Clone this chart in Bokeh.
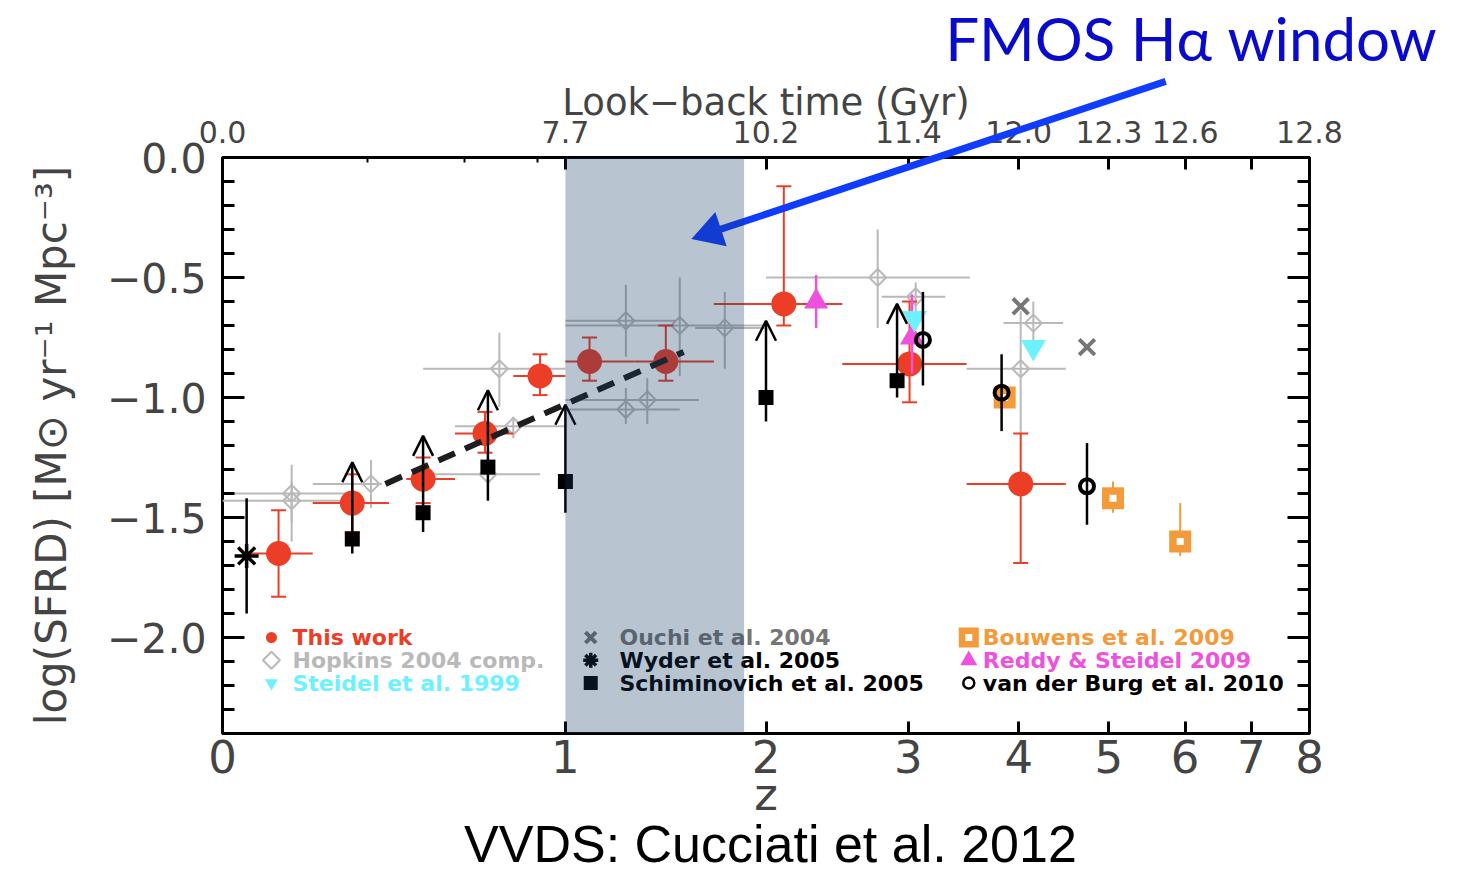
import numpy as np
from bokeh.plotting import figure
from bokeh.models import (ColumnDataSource, FixedTicker, LogAxis, LinearAxis, Range1d,
                          BoxAnnotation, Arrow, OpenHead)
from bokeh.core.properties import value
from bokeh.embed import file_html
from bokeh.resources import INLINE

# ---------------- data: log star-formation-rate density vs redshift ----------------
# This work (VVDS): redshift, bin edges, log SFRD and its error range
tw_z = [0.12, 0.30, 0.50, 0.70, 0.90, 1.10, 1.45, 2.11, 3.01, 4.02]
tw_zlo = [0.05, 0.20, 0.45, 0.60, 0.80, 1.00, 1.30, 1.70, 2.50, 3.50]
tw_zhi = [0.20, 0.40, 0.60, 0.80, 1.00, 1.30, 1.70, 2.50, 3.50, 4.50]
tw_sfrd = [-1.65, -1.44, -1.34, -1.15, -0.91, -0.85, -0.85, -0.61, -0.86, -1.36]
tw_lo = [-1.83, -1.56, -1.44, -1.23, -0.99, -0.93, -0.93, -0.70, -1.02, -1.69]
tw_hi = [-1.47, -1.32, -1.25, -1.06, -0.82, -0.75, -0.70, -0.12, -0.60, -1.15]

# Hopkins (2004) compilation
hk_z = [0.15, 0.15, 0.35, 0.75, 0.80, 0.71, 1.26, 1.52, 1.76, 1.26, 1.36, 2.76, 3.06, 4.15, 4.02]
hk_zlo = [0.00, 0.00, 0.20, 0.50, 0.60, 0.53, 1.00, 1.00, 1.60, 1.00, 1.00, 2.00, 2.79, 3.85, 3.50]
hk_zhi = [0.28, 0.27, 0.38, 1.00, 1.00, 0.90, 1.50, 2.00, 2.00, 1.52, 1.62, 3.53, 3.31, 4.47, 4.50]
hk_sfrd = [-1.40, -1.43, -1.36, -0.88, -1.12, -1.32, -0.68, -0.70, -0.71, -1.05, -1.01, -0.50, -0.58, -0.69, -0.88]
hk_lo = [-1.60, -1.52, -1.46, -1.04, -1.17, -1.40, -0.83, -0.91, -0.88, -1.11, -1.11, -0.71, -0.64, -0.78, -1.15]
hk_hi = [-1.28, -1.35, -1.26, -0.73, -1.08, -1.23, -0.53, -0.50, -0.56, -0.96, -0.92, -0.30, -0.52, -0.60, -0.64]

# Steidel et al. (1999)
st_z = [3.05, 4.15]
st_sfrd = [-0.67, -0.79]

# Ouchi et al. (2004)
ou_z = [4.02, 4.74]
ou_sfrd = [-0.62, -0.79]

# Wyder et al. (2005)
wy_z = [0.05]
wy_sfrd = [-1.66]
wy_lo = [-1.90]
wy_hi = [-1.42]

# Schiminovich et al. (2005): lower limits
sc_z = [0.30, 0.50, 0.71, 1.00, 2.00, 2.91]
sc_sfrd = [-1.59, -1.48, -1.29, -1.35, -1.00, -0.93]
sc_lo = [-1.65, -1.56, -1.43, -1.48, -1.10, -1.00]
sc_limit = 0.32  # length of the lower-limit arrows, dex

# Bouwens et al. (2009)
bo_z = [3.86, 5.05, 5.93]
bo_sfrd = [-1.00, -1.42, -1.60]
bo_lo = [-1.02, -1.48, -1.66]
bo_hi = [-0.97, -1.35, -1.44]

# Reddy & Steidel (2009)
rs_z = [2.32, 3.03]
rs_sfrd = [-0.60, -0.75]
rs_lo = [-0.71, -0.90]
rs_hi = [-0.49, -0.57]

# van der Burg et al. (2010)
vb_z = [3.12, 3.83, 4.74]
vb_sfrd = [-0.76, -0.98, -1.37]
vb_lo = [-0.95, -1.14, -1.53]
vb_hi = [-0.56, -0.82, -1.19]

# dashed trend line
trend_z = [0.39, 1.54]
trend_sfrd = [-1.36, -0.81]

# FMOS H-alpha redshift window
win_z = [1.0, 1.87]

# axes
z_ticks = [0, 1, 2, 3, 4, 5, 6, 7, 8]
lbt_z = [0, 1, 2, 3, 4, 5, 6, 8]
lbt_gyr = ["0.0", "7.7", "10.2", "11.4", "12.0", "12.3", "12.6", "12.8"]
lbt_minor_z = [0.34, 0.63, 0.89]
y_ticks = [0.0, -0.5, -1.0, -1.5, -2.0]
y_labels = ["0.0", "\u22120.5", "\u22121.0", "\u22121.5", "\u22122.0"]


def opz(z):
    return list(np.asarray(z, dtype=float) + 1.0)


RED = "#ec3d27"
GREY = "#b9b9b9"
CYAN = "#6df1ff"
MAGENTA = "#ee52dc"
ORANGE = "#f39a3a"
DKGREY = "#767676"
BLUE_LINE = "#0f3cff"
FONT = "DejaVu Sans"

p = figure(x_axis_type="log", x_range=Range1d(1, 9), y_range=Range1d(-2.4, 0.0),
           frame_width=1087, frame_height=576,
           min_border_left=222, min_border_right=154, min_border_top=157, min_border_bottom=144,
           output_backend="svg", toolbar_location=None)
p.xgrid.visible = False
p.ygrid.visible = False
p.outline_line_color = "black"
p.outline_line_width = 3
p.background_fill_color = "white"
p.border_fill_color = "white"

# bottom axis: redshift on a log(1+z) scale
xa = p.xaxis[0]
xa.ticker = FixedTicker(ticks=opz(z_ticks), minor_ticks=[])
xa.major_label_overrides = {float(t + 1): str(t) for t in z_ticks}
xa.axis_label = "z"
xa.axis_line_color = None
xa.major_tick_in = 12
xa.major_tick_out = 0
xa.major_tick_line_width = 3
xa.minor_tick_line_color = None
xa.major_label_text_font = FONT
xa.major_label_text_font_size = "45px"
xa.major_label_standoff = 6
xa.axis_label_text_font = FONT
xa.axis_label_text_font_size = "45px"
xa.axis_label_text_font_style = "normal"
xa.axis_label_standoff = -8

# top axis: look-back time
top = LogAxis(ticker=FixedTicker(ticks=opz(lbt_z + [7]), minor_ticks=opz(lbt_minor_z)))
top.major_label_overrides = {**{float(z + 1): g for z, g in zip(lbt_z, lbt_gyr)}, 8.0: ""}
top.axis_label = "Look\u2212back time (Gyr)"
top.axis_line_color = None
top.major_tick_in = 12
top.major_tick_out = 0
top.minor_tick_in = 5
top.minor_tick_out = 0
top.major_tick_line_width = 3
top.minor_tick_line_width = 2
top.major_label_text_font = FONT
top.major_label_text_font_size = "30px"
top.major_label_standoff = 15
top.axis_label_text_font = FONT
top.axis_label_text_font_size = "37px"
top.axis_label_text_font_style = "normal"
top.axis_label_standoff = -6
p.add_layout(top, "above")

# left / right axes
y_minor = [round(-0.1 * i, 2) for i in range(1, 24) if i % 5 != 0]
ya = p.yaxis[0]
ya.ticker = FixedTicker(ticks=y_ticks, minor_ticks=y_minor)
ya.major_label_overrides = {t: l for t, l in zip(y_ticks, y_labels)}
ya.axis_label = "log(SFRD) [M\u2299 yr\u207b\u00b9 Mpc\u207b\u00b3]"
ya.axis_line_color = None
ya.major_tick_in = 22
ya.major_tick_out = 0
ya.minor_tick_in = 12
ya.minor_tick_out = 0
ya.major_tick_line_width = 3
ya.minor_tick_line_width = 3
ya.major_label_text_font = FONT
ya.major_label_text_font_size = "41px"
ya.major_label_standoff = 16
ya.axis_label_text_font = FONT
ya.axis_label_text_font_size = "42px"
ya.axis_label_text_font_style = "normal"
ya.axis_label_standoff = 28

right = LinearAxis(ticker=FixedTicker(ticks=y_ticks, minor_ticks=y_minor))
right.major_label_overrides = {t: "" for t in y_ticks}
right.axis_line_color = None
right.major_tick_in = 22
right.major_tick_out = 0
right.minor_tick_in = 12
right.minor_tick_out = 0
right.major_tick_line_width = 3
right.minor_tick_line_width = 3
p.add_layout(right, "right")

# ---------------- Hopkins compilation (behind everything) ----------------
p.segment(x0=opz(hk_zlo), y0=hk_sfrd, x1=opz(hk_zhi), y1=hk_sfrd, line_color=GREY, line_width=2)
p.segment(x0=opz(hk_z), y0=hk_lo, x1=opz(hk_z), y1=hk_hi, line_color=GREY, line_width=2)
p.scatter(x=opz(hk_z), y=hk_sfrd, marker="square", angle=np.pi / 4, size=12,
          fill_color=None, line_color=GREY, line_width=2)

# ---------------- This work ----------------
p.segment(x0=opz(tw_zlo), y0=tw_sfrd, x1=opz(tw_zhi), y1=tw_sfrd, line_color=RED, line_width=2)
p.segment(x0=opz(tw_z), y0=tw_lo, x1=opz(tw_z), y1=tw_hi, line_color=RED, line_width=2)
p.scatter(x=opz(tw_z) * 2, y=tw_lo + tw_hi, marker="dash", size=15, line_color=RED, line_width=2)
p.scatter(x=opz(tw_z), y=tw_sfrd, marker="circle", size=25, fill_color=RED, line_color=None)

# Ouchi
p.scatter(x=opz(ou_z), y=ou_sfrd, marker="x", size=22, line_color=DKGREY, line_width=4)

# Bouwens
p.segment(x0=opz(bo_z), y0=bo_lo, x1=opz(bo_z), y1=bo_hi, line_color=ORANGE, line_width=2)
p.scatter(x=opz(bo_z), y=bo_sfrd, marker="square", size=22, fill_color=ORANGE, line_color=None)
p.scatter(x=opz(bo_z), y=bo_sfrd, marker="square", size=7, fill_color="white", line_color=None)

# Reddy & Steidel
p.segment(x0=opz(rs_z), y0=rs_lo, x1=opz(rs_z), y1=rs_hi, line_color=MAGENTA, line_width=2.5)
p.scatter(x=opz(rs_z), y=rs_sfrd, marker="triangle", size=24, fill_color=MAGENTA, line_color=None)

# Steidel
p.scatter(x=opz(st_z), y=st_sfrd, marker="inverted_triangle", size=25, fill_color=CYAN, line_color=None)

# Schiminovich lower limits
sc_src = ColumnDataSource(dict(x=opz(sc_z), y=sc_sfrd, lo=sc_lo,
                               top=list(np.asarray(sc_sfrd) + sc_limit)))
p.segment(x0="x", y0="lo", x1="x", y1="y", source=sc_src, line_color="black", line_width=2.5)
p.add_layout(Arrow(end=OpenHead(size=20, line_width=2.5, line_color="black"),
                   x_start="x", y_start="y", x_end="x", y_end="top", source=sc_src,
                   line_color="black", line_width=2.5))
p.scatter(x="x", y="y", source=sc_src, marker="square", size=15, fill_color="black", line_color=None)

# Wyder
p.segment(x0=opz(wy_z), y0=wy_lo, x1=opz(wy_z), y1=wy_hi, line_color="black", line_width=2.5)
p.scatter(x=opz(wy_z), y=wy_sfrd, marker="asterisk", size=24, line_color="black", line_width=3.5)

# van der Burg
p.segment(x0=opz(vb_z), y0=vb_lo, x1=opz(vb_z), y1=vb_hi, line_color="black", line_width=2.5)
p.scatter(x=opz(vb_z), y=vb_sfrd, marker="circle", size=14, fill_color=None, line_color="black", line_width=4)

# dashed trend
p.line(x=opz(trend_z), y=trend_sfrd, line_color="#1e1e1e", line_width=6, line_dash="18 11")

# ---------------- legend (three columns of coloured text) ----------------
leg_rows = [-2.0, -2.095, -2.19]
leg_x = [1.152, 2.231, 4.65]
leg_mx = [1.104, 2.105, 4.52]
leg_src = ColumnDataSource(dict(
    x=[leg_x[0]] * 3 + [leg_x[1]] * 3 + [leg_x[2]] * 3,
    y=leg_rows * 3,
    text=["This work", "Hopkins 2004 comp.", "Steidel et al. 1999",
          "Ouchi et al. 2004", "Wyder et al. 2005", "Schiminovich et al. 2005",
          "Bouwens et al. 2009", "Reddy & Steidel 2009", "van der Burg et al. 2010"],
    color=[RED, GREY, CYAN, DKGREY, "black", "black", ORANGE, MAGENTA, "black"]))
p.text(x="x", y="y", text="text", source=leg_src, text_color="color",
       text_font=value(FONT), text_font_style="bold", text_font_size="22px",
       text_baseline="middle", text_align="left")
p.scatter(x=[leg_mx[0]], y=[leg_rows[0]], marker="circle", size=11, fill_color=RED, line_color=None)
p.scatter(x=[leg_mx[0]], y=[leg_rows[1]], marker="square", angle=np.pi / 4, size=12,
          fill_color=None, line_color=GREY, line_width=2)
p.scatter(x=[leg_mx[0]], y=[leg_rows[2]], marker="inverted_triangle", size=13, fill_color=CYAN, line_color=None)
p.scatter(x=[leg_mx[1]], y=[leg_rows[0]], marker="x", size=15, line_color=DKGREY, line_width=4)
p.scatter(x=[leg_mx[1]], y=[leg_rows[1]], marker="asterisk", size=15, line_color="black", line_width=3.5)
p.scatter(x=[leg_mx[1]], y=[leg_rows[2]], marker="square", size=14, fill_color="black", line_color=None)
p.scatter(x=[leg_mx[2]], y=[leg_rows[0]], marker="square", size=20, fill_color=ORANGE, line_color=None)
p.scatter(x=[leg_mx[2]], y=[leg_rows[0]], marker="square", size=7, fill_color="white", line_color=None)
p.scatter(x=[leg_mx[2]], y=[leg_rows[1]], marker="triangle", size=17, fill_color=MAGENTA, line_color=None)
p.scatter(x=[leg_mx[2]], y=[leg_rows[2]], marker="circle", size=11, fill_color=None, line_color="black", line_width=2.5)

# FMOS window shading, laid over the points
p.add_layout(BoxAnnotation(left=win_z[0] + 1, right=win_z[1] + 1, fill_color="#163a66",
                           fill_alpha=0.3, line_color=None, level="overlay"))

# callout arrow and captions: overlay-level glyphs may run outside the frame
p.segment(x0=[6.73], y0=[0.317], x1=[2.685], y1=[-0.312], line_color=BLUE_LINE,
          line_width=7, level="overlay")
p.scatter(x=[2.685], y=[-0.312], marker="triangle", size=36, angle=1.892,
          fill_color=BLUE_LINE, line_color=None, level="overlay")
p.text(x=[11.64], y=[0.496], text=["FMOS H\u03b1 window"], text_align="right",
       text_baseline="middle", text_font=value("Lato"), text_font_size="60px",
       text_color="#0a0acc", level="overlay")
p.text(x=[3.027], y=[-2.86], text=["VVDS: Cucciati et al. 2012"], text_align="center",
       text_baseline="middle", text_font=value("Liberation Sans"), text_font_size="52px",
       text_color="black", level="overlay")

open("out.html", "w").write(file_html(p, INLINE))
